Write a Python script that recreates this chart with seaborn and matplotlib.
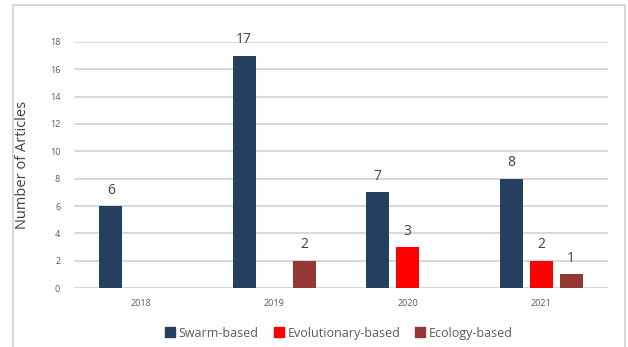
import pandas as pd
import matplotlib.pyplot as plt
import matplotlib.patches as mpatches
import seaborn as sns

years = ["2018", "2019", "2020", "2021"]
swarm = [6, 17, 7, 8]
evolutionary = [0, 0, 3, 2]
ecology = [0, 2, 0, 1]
groups = ["Swarm-based", "Evolutionary-based", "Ecology-based"]
colors = ["#243F60", "#FF0000", "#953735"]

rows = []
for i, y in enumerate(years):
    rows.append((y, groups[0], swarm[i]))
    rows.append((y, groups[1], evolutionary[i]))
    rows.append((y, groups[2], ecology[i]))
data = pd.DataFrame(rows, columns=["Year", "Type", "Articles"])

sns.set_style("white")
plt.rcParams["font.family"] = ["Open Sans", "DejaVu Sans"]

fig = plt.figure(figsize=(6.28, 3.47), dpi=100)
ax = fig.add_axes([0.118, 0.170, 0.850, 0.709])

sns.barplot(data=data, x="Year", y="Articles", hue="Type",
            palette=colors, saturation=1, width=0.675, gap=0.235,
            linewidth=0, ax=ax, legend=False, zorder=3)

# labels on non-zero bars only
for cont in ax.containers:
    labels = [f"{int(b.get_height())}" if b.get_height() > 0 else "" for b in cont]
    ax.bar_label(cont, labels=labels, padding=6, fontsize=10, color="#404040")

ax.set_ylim(0, 18)
ax.set_yticks(range(0, 19, 2))
ax.set_xlim(-0.5, 3.5)
ax.grid(axis="y", color="#D9D9D9", linewidth=1.5, zorder=0)
ax.tick_params(axis="both", length=0, labelsize=6.5, colors="#595959")
ax.tick_params(axis="x", pad=8)
ax.tick_params(axis="y", pad=10)
for s in ["top", "right", "left", "bottom"]:
    ax.spines[s].set_visible(False)
ax.set_xlabel("")
ax.set_ylabel("Number of Articles", fontsize=10.5, color="#404040", labelpad=14)

handles = [mpatches.Patch(color=c, label=g) for c, g in zip(colors, groups)]
leg = fig.legend(handles=handles, loc="center", bbox_to_anchor=(0.54, 0.04),
                 ncol=3, frameon=False, fontsize=9, handlelength=0.8,
                 handleheight=0.8, handletextpad=0.3, columnspacing=1.2)
for t in leg.get_texts():
    t.set_color("#595959")

fig.patches.append(mpatches.Rectangle((13 / 628, -0.05), 612 / 628, 1.05 - 5 / 347,
                                      transform=fig.transFigure, fill=False,
                                      edgecolor="#D9D9D9", linewidth=1.5))

plt.savefig("out.png", dpi=100)
